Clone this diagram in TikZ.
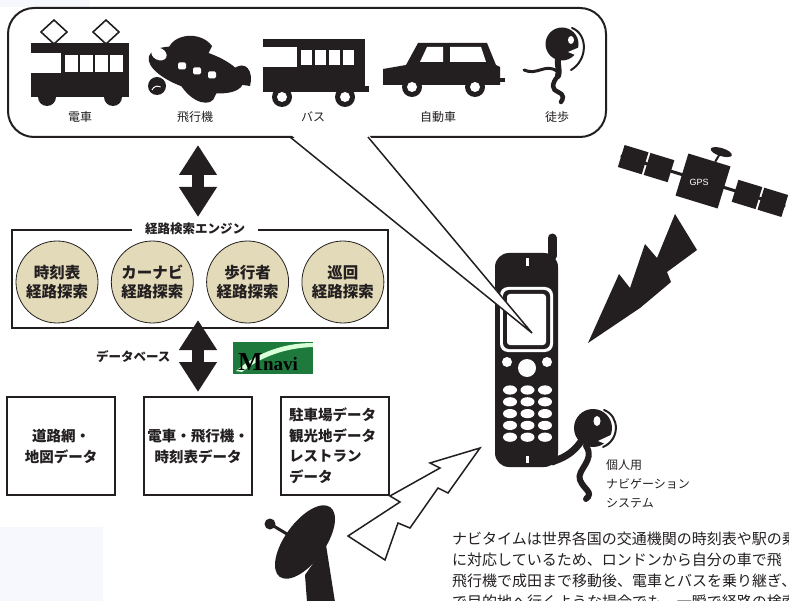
\documentclass[tikz,border=0pt]{standalone}
\usepackage{fontspec}
\setmainfont{Noto Sans CJK JP}
\newfontfamily\latinsans{Liberation Sans}
\newfontfamily\latinserif{Liberation Serif}
\usetikzlibrary{arrows.meta,positioning}
\definecolor{ink}{RGB}{35,31,32}
\definecolor{sand}{RGB}{227,218,185}
\definecolor{mgreen}{RGB}{30,122,60}
\definecolor{haze}{RGB}{246,248,253}
\tikzstyle{every node}=[text=ink]
\tikzstyle{modelabel}=[font=\fontsize{12}{14}\selectfont]
\tikzstyle{bubble}=[draw=ink, line width=2pt, rounded corners=26pt, minimum width=598pt, minimum height=129pt, fill=white]
\tikzstyle{search}=[circle, draw=ink, line width=0.8pt, fill=sand, minimum size=82pt, inner sep=0pt, align=center, font=\bfseries\fontsize{15.5}{19}\selectfont]
\tikzstyle{dbbox}=[draw=ink, line width=1.8pt, minimum width=108pt, minimum height=98pt, inner xsep=2pt, align=center, font=\bfseries\fontsize{14.5}{21}\selectfont]
\tikzstyle{bigarrow}=[ink, line width=12pt, {Triangle[length=30pt,width=36pt]}-{Triangle[length=30pt,width=36pt]}]
\tikzstyle{caption}=[font=\bfseries\fontsize{12.5}{14}\selectfont]
\tikzstyle{body}=[font=\fontsize{15}{21}\selectfont, anchor=west, inner sep=0pt]

\begin{document}
\begin{tikzpicture}[x=1pt,y=-1pt]
\useasboundingbox (0,0) rectangle (789,601);
\fill[haze] (0,0) rectangle (90,7);
\fill[haze] (0,527) rectangle (103,601);

\node[bubble] (modes) at (307,72.5) {};

% train
\fill[ink] (31,43) rectangle (129,53);
\fill[ink] (61,53) rectangle (129,73);
\fill[ink] (31,73) rectangle (129,97);
\foreach \x in {65,80,95,110} \fill[white] (\x,55) rectangle ++(12.5,17);
\fill[ink] (47,97) circle (9);
\fill[ink] (113,97) circle (9);
\foreach \x in {54,106} \draw[ink, line width=1.6pt] (\x,20) -- (\x+13,32) -- (\x,44) -- (\x-13,32) -- cycle;

% plane
\fill[ink, rotate around={-16:(196,70)}] (196,70) ellipse (49 and 20);
\fill[ink] (168,50) .. controls (172,34) and (200,30) .. (212,46) -- (205,60) -- cycle;
\fill[ink] (180,84) .. controls (192,104) and (212,108) .. (215,96) -- (222,82) -- cycle;
\fill[ink] (232,70) .. controls (246,58) and (254,72) .. (250,86) -- (236,84) -- cycle;
\fill[ink] (157,86) circle (9);
\draw[white, line width=1pt] (152,90) arc (200:300:6);
\fill[white, rotate around={-25:(159,54)}] (159,54) ellipse (8 and 6);
\foreach \x/\y in {182/66,197/71,212/75} \fill[white, rounded corners=1.5pt] (\x-4,\y-3.5) rectangle (\x+4,\y+3.5);

% bus
\fill[ink] (263,39) rectangle (365,47);
\fill[ink] (297,47) rectangle (365,67);
\fill[ink] (263,67) rectangle (365,92);
\fill[ink] (365,86) rectangle (369,92);
\foreach \x in {301,315,329,343} \fill[white] (\x,50) rectangle ++(11,15);
\foreach \x in {282,345} {\fill[ink] (\x,97) circle (10); \fill[white] (\x,97) circle (5);}

% car
\fill[ink] (383,69) -- (406,65) -- (418,43) -- (487,43) -- (496,65) -- (500,67) -- (500,85) -- (383,85) -- cycle;
\fill[ink] (500,78) rectangle (505,82);
\fill[white] (427,47) -- (443,47) -- (443,62) -- (420,62) -- cycle;
\fill[white] (450,47) -- (481,47) -- (486,62) -- (450,62) -- cycle;
\foreach \x in {412,475} {\fill[ink] (\x,87) circle (10); \fill[white] (\x,87) circle (5);}

% walker
\fill[ink] (562,44) circle (16.5);
\fill[white] (571,40) ellipse (3 and 4);
\fill[white] (568,52) -- (580,47) -- (580,57) -- cycle;
\draw[ink, line width=2pt, line cap=round] (572,28) .. controls (588,34) and (588,60) .. (571,70);
\draw[ink, line width=6pt, line cap=round] (558,58) .. controls (557,66) and (560,70) .. (558,76);
\draw[ink, line width=4.5pt, line cap=round] (558,76) .. controls (551,84) and (552,90) .. (558,92) .. controls (565,95) and (563,99) .. (561,102);
\draw[ink, line width=3pt, line cap=round] (557,71) .. controls (545,63) and (537,76) .. (524,70);

\node[modelabel] (train) at (80,117) {電車};
\node[modelabel] (plane) at (195,117) {飛行機};
\node[modelabel] (bus) at (313,117) {バス};
\node[modelabel] (car) at (438,117) {自動車};
\node[modelabel] (walk) at (557,117) {徒歩};

% route engine
\node[draw=ink, line width=1.8pt, minimum width=376pt, minimum height=98pt] (engine) at (200,279) {};
\node[caption, fill=white, inner xsep=13pt, inner ysep=2pt] (enginelabel) at (195,229) {経路検索エンジン};
\node[search] (timetable) at (57,282) {時刻表\\経路探索};
\node[search, right=12.5pt of timetable] (carnavi) {カーナビ\\経路探索};
\node[search, right=12.5pt of carnavi] (pedestrian) {歩行者\\経路探索};
\node[search, right=12.5pt of pedestrian] (tour) {巡回\\経路探索};

% databases
\node[dbbox] (roads) at (61,446) {道路網・\\地図データ};
\node[dbbox] (timetables) at (198,446) {電車・飛行機・\\時刻表データ};
\node[dbbox, align=left, text width=92pt, inner xsep=8pt, font=\bfseries\fontsize{14.5}{20.5}\selectfont] (spots) at (335,446) {駐車場データ\\観光地データ\\レストラン\\データ};
\node[caption, anchor=east] (dblabel) at (174,357) {データベース};

\node[fill=mgreen, minimum width=80pt, minimum height=32pt, inner sep=0pt] (mnavi) at (273,358) {};
\fill[green!15!white] (236,371) .. controls (258,352) and (284,343) .. (313,343) -- (313,347) .. controls (286,348) and (262,356) .. (242,372) -- cycle;
\node[anchor=base west, inner sep=0pt, text=black, font=\latinserif\bfseries\fontsize{26}{26}\selectfont] (mnaviM) at (238,370) {M};
\node[anchor=base west, inner sep=0pt, text=black, font=\latinserif\bfseries\fontsize{19}{19}\selectfont] (mnavitext) at (mnaviM.base east) {navi};

\coordinate (up1) at (198,145);
\coordinate (up2) at (198,217);
\coordinate (down1) at (198,320);
\coordinate (down2) at (198,392);
\draw[bigarrow] (up1) -- (up2);
\draw[bigarrow] (down1) -- (down2);

% phone
\fill[ink, rounded corners=14pt] (495,253) rectangle (558,467);
\draw[ink, line width=9pt, line cap=round] (552,238) -- (552,256);
\fill[white] (526,258) rectangle (529,266);
\fill[white] (526,456) rectangle (529,463);
\fill[white, rounded corners=8pt] (500,287) rectangle (553,352);
\fill[ink, rounded corners=6pt] (503,290) rectangle (550,349);
\fill[white, rounded corners=3pt] (507,294) rectangle (546,345);
\fill[white] (507,362) circle (5);
\fill[white] (547,362) circle (5);
\fill[white] (527,368) circle (9);
\foreach \r in {0,...,4} \foreach \c in {0,1,2} \fill[white] (510+17.5*\c,390+11.8*\r) ellipse (7 and 4.6);

\coordinate (screen) at (532,333);
\coordinate (tailL) at (290,137);
\coordinate (tailR) at (368,137);
\fill[white] ([yshift=3pt]tailL) -- (screen) -- ([yshift=3pt]tailR) -- cycle;
\draw[ink, line width=1.5pt] (tailL) -- (screen) -- (tailR);

% walker beside the phone
\draw[ink, line width=7pt, line cap=round] (582,440) .. controls (572,455) and (562,458) .. (552,462);
\draw[ink, line width=6pt, line cap=round] (586,446) .. controls (596,460) and (576,470) .. (580,480) .. controls (584,490) and (594,492) .. (586,499);
\fill[ink] (593,428) circle (19);
\fill[white] (597,421) ellipse (3.5 and 5);
\fill[white] (598,441) -- (613,434) -- (613,447) -- cycle;
\draw[ink, line width=2pt, line cap=round] (604,410) .. controls (620,416) and (620,440) .. (603,447);
\node[anchor=west, align=left, inner sep=0pt, font=\fontsize{12}{19}\selectfont] (pns) at (606,484) {個人用\\ナビゲーション\\システム};

% satellite
\begin{scope}[shift={(703,181)}, rotate=-17]
\draw[ink, line width=3pt] (-86,0) -- (86,0);
\foreach \c in {-73,-46,46,73} \fill[ink] (\c-12.5,-11.5) rectangle (\c+12.5,11.5);
\fill[ink] (-22,-22) rectangle (22,22);
\draw[ink, line width=2pt] (6,-22) -- (8,-30);
\fill[ink] (9,-33) ellipse (11 and 4);
\end{scope}
\node[text=white, font=\latinsans\fontsize{9}{10}\selectfont] (gps) at (699,182) {GPS};
\fill[ink] (675,214) -- (697,250) -- (667,272) -- (671,282) -- (640,308) -- (588,343) -- (619,274) -- (630,288) -- (645,244) -- (657,258) -- cycle;

% dish
\fill[ink, rotate around={54:(305,542)}] (305,542) ellipse (43 and 20);
\fill[ink] (305,575) -- (307,602) -- (335,602) -- (326,545) -- cycle;
\draw[ink, line width=3pt] (272,525) -- (292,537);
\fill[ink] (270,524) circle (5.5);
\filldraw[fill=white, draw=ink, line width=1.5pt] (348,536) -- (400,502) -- (390,496) -- (440,468) -- (430,463) -- (480,448) -- (448,493) -- (438,488) -- (410,528) -- (398,523) -- (385,560) -- cycle;

\begin{scope}
\clip (0,0) rectangle (789,601);
\node[body] (line1) at (452,539) {ナビタイムは世界各国の交通機関の時刻表や駅の乗};
\node[body] (line2) at (452,560) {に対応しているため、ロンドンから自分の車で飛};
\node[body] (line3) at (452,581) {飛行機で成田まで移動後、電車とバスを乗り継ぎ、};
\node[body] (line4) at (452,602) {で目的地へ行くような場合でも、一瞬で経路の検索};
\end{scope}
\end{tikzpicture}
\end{document}
